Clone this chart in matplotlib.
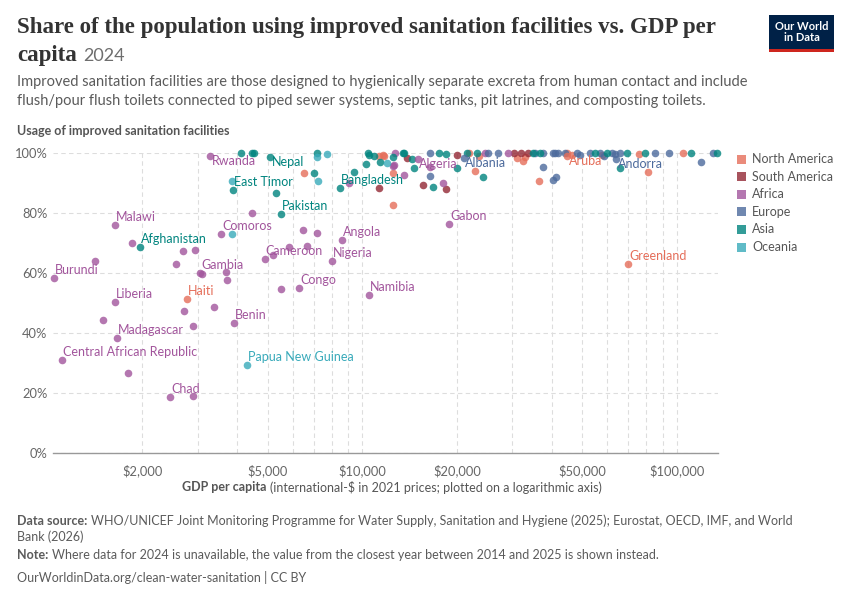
import matplotlib.pyplot as plt
from matplotlib.patches import Rectangle

W, H = 850, 600

regions = ["North America", "South America", "Africa", "Europe", "Asia", "Oceania"]
region_colors = {
    "North America": "#E56E5A",
    "South America": "#932834",
    "Africa": "#A2559C",
    "Europe": "#4C6A9C",
    "Asia": "#00847E",
    "Oceania": "#38AABA",
}

# unlabelled countries, GDP per capita (int.-$ 2021) and share with improved sanitation (%)
north_america_gdp = [6550, 11300, 11700, 12500, 12500, 11600, 22800, 21800, 33000, 36400,
                     44700, 46400, 57800, 75800, 80900, 104500, 31000, 32500, 23500]
north_america_pct = [93.3, 99, 99, 82.7, 93.3, 99.3, 94, 100, 98.7, 90.7,
                     100, 99.3, 99.3, 99.7, 93.7, 100, 98.5, 97.5, 99]
south_america_gdp = [11300, 13900, 15600, 30400, 32000, 33600, 20000, 18500]
south_america_pct = [88.3, 98.3, 89.3, 100, 100, 100, 99.5, 88]
africa_gdp = [1500, 1800, 2890, 2720, 2890, 3380, 5530, 3100, 3700, 3720, 2550, 1410, 1860,
              2700, 2950, 4470, 5200, 5840, 6680, 6500, 7200, 9100, 12500, 12700, 13600,
              12600, 18100, 29000, 16400, 24500]
africa_pct = [44.3, 26.7, 19, 47.3, 42.3, 48.7, 54.7, 59.7, 60.3, 57.7, 63, 64, 70,
              67.3, 67.7, 80, 66, 68.7, 69, 74.3, 73.3, 90, 95.7, 100, 92.7,
              96, 90, 100, 95.5, 100]
europe_gdp = [16400, 16400, 37600, 40300, 41200, 40300, 41800, 37600, 41000, 48100, 49200,
              52800, 56900, 62100, 63500, 65800, 85200, 94200, 119000, 130000, 44000, 27000,
              25000, 35500, 58500]
europe_pct = [92.3, 100, 95.3, 91, 92, 100, 100, 100, 100, 100, 99.3,
              100, 100, 100, 99.7, 100, 100, 100, 97, 100, 100, 100,
              100, 100, 99]
asia_gdp = [4130, 4470, 4520, 7200, 7000, 5300, 9400, 10400, 10500, 10300, 10900, 12500,
            14400, 14600, 13500, 13600, 16800, 17500, 18500, 20000, 21500, 23100, 24200,
            34800, 36600, 54800, 60000, 69200, 79200, 65800, 111000, 134000, 11400]
asia_pct = [100, 100, 100, 100, 93.3, 86.7, 93.7, 100, 99.3, 96.3, 99, 98.7,
            98, 95, 100, 100, 88.7, 100, 99.7, 95, 100, 100, 92,
            100, 100, 100, 100, 100, 100, 95, 100, 100, 97]
oceania_gdp = [3840, 3840, 7200, 7700, 7250, 12000]
oceania_pct = [73, 90.7, 98.7, 99.7, 90.7, 96.7]

# labelled countries
label_names = ["Burundi", "Central African Republic", "Malawi", "Liberia", "Madagascar", "Chad",
               "Benin", "Congo", "Namibia", "Gambia", "Comoros", "Cameroon", "Angola", "Nigeria",
               "Gabon", "Rwanda", "Algeria", "Afghanistan", "Pakistan", "Nepal", "East Timor",
               "Bangladesh", "Albania", "Andorra", "Haiti", "Greenland", "Aruba", "Papua New Guinea"]
label_gdp = [1050, 1110, 1640, 1640, 1660, 2450, 3900, 6300, 10500, 3055, 3560, 4900, 8650, 8000,
             18850, 3290, 15000, 1970, 5500, 5080, 3880, 8500, 21000, 64000, 2780, 70000, 44700, 4300]
label_pct = [58.3, 31, 76, 50.3, 38.3, 18.7, 43.3, 55, 52.7, 60, 73, 64.7, 71, 64,
             76.3, 99, 98, 68.7, 79.7, 98.7, 87.7, 88.3, 98.3, 98, 51.3, 63, 99, 29.3]
label_region = ["Africa"] * 17 + ["Asia"] * 5 + ["Europe"] * 2 + ["North America"] * 3 + ["Oceania"]
label_below = ["Rwanda", "Nepal", "Algeria", "Albania", "Andorra", "Aruba"]

x_ticks = [2000, 5000, 10000, 20000, 50000, 100000]
x_tick_labels = ["$2,000", "$5,000", "$10,000", "$20,000", "$50,000", "$100,000"]
x_minor = [3000, 4000, 6000, 7000, 8000, 9000, 30000, 40000, 60000, 70000, 80000, 90000]
y_ticks = [0, 20, 40, 60, 80, 100]

plt.rcParams['font.family'] = ['Lato', 'DejaVu Sans']

fig = plt.figure(figsize=(8.5, 6), dpi=100)
ax = fig.add_axes([53 / W, 1 - 453 / H, (718 - 53) / W, 300 / H])

series = {
    "North America": (north_america_gdp, north_america_pct),
    "South America": (south_america_gdp, south_america_pct),
    "Africa": (africa_gdp, africa_pct),
    "Europe": (europe_gdp, europe_pct),
    "Asia": (asia_gdp, asia_pct),
    "Oceania": (oceania_gdp, oceania_pct),
}
for reg in regions:
    gx, gy = series[reg]
    ax.scatter(gx, gy, s=30, color=region_colors[reg], alpha=0.8, linewidths=0, clip_on=False, zorder=3)

for name, gx, gy, reg in zip(label_names, label_gdp, label_pct, label_region):
    ax.scatter([gx], [gy], s=30, color=region_colors[reg], alpha=0.8, linewidths=0, clip_on=False, zorder=3)
    off = (1.2, -3.5) if name in label_below else (0.7, 5.8)
    ax.annotate(name, (gx, gy), xytext=off, textcoords='offset points', fontsize=9,
                color=region_colors[reg], va='center', ha='left', zorder=4)

ax.set_xscale('log')
ax.set_xlim(1040, 135000)
ax.set_ylim(0, 100)
ax.set_xticks(x_ticks)
ax.set_xticklabels(x_tick_labels)
ax.set_xticks(x_minor, minor=True)
ax.set_xticklabels([], minor=True)
ax.set_yticks(y_ticks)
ax.set_yticklabels([f"{v}%" for v in y_ticks])
ax.tick_params(axis='both', which='both', length=0, labelsize=9.3, colors='#666666')
ax.tick_params(axis='x', pad=8)
ax.tick_params(axis='y', pad=4)
ax.grid(True, which='both', axis='x', linestyle=(0, (4, 3)), color='#dddddd', lw=0.8)
ax.grid(True, which='major', axis='y', linestyle=(0, (4, 3)), color='#dddddd', lw=0.8)
ax.set_axisbelow(True)
for side in ['top', 'right', 'left']:
    ax.spines[side].set_visible(False)
ax.spines['bottom'].set_color('#999999')
ax.spines['bottom'].set_linewidth(1)

renderer = fig.canvas.get_renderer()


def fy(px):
    return 1 - px / H


def rich(x_px, y_px, parts, size, family='Lato'):
    x = x_px
    for txt, weight, col in parts:
        t = fig.text(x / W, fy(y_px), txt, fontsize=size, fontweight=weight, color=col,
                     va='center', ha='left', family=family)
        bb = t.get_window_extent(renderer=renderer)
        x += bb.width + size * 0.38
    return x


# title
title_font = ['Liberation Serif', 'DejaVu Serif']
fig.text(17 / W, fy(28), "Share of the population using improved sanitation facilities vs. GDP per",
         fontsize=16.5, fontweight='bold', color='#333333', va='center', family=title_font)
t2 = fig.text(17 / W, fy(56), "capita", fontsize=16.5, fontweight='bold', color='#333333',
              va='center', family=title_font)
bb = t2.get_window_extent(renderer=renderer)
fig.text((17 + bb.width + 6) / W, fy(56), "2024", fontsize=13, color='#6e6e6e', va='center')

fig.text(17 / W, fy(82), "Improved sanitation facilities are those designed to hygienically separate excreta from "
         "human contact and include", fontsize=10.5, color='#5b5b5b', va='center')
fig.text(17 / W, fy(101), "flush/pour flush toilets connected to piped sewer systems, septic tanks, pit latrines, "
         "and composting toilets.", fontsize=10.5, color='#5b5b5b', va='center')

fig.text(17 / W, fy(131), "Usage of improved sanitation facilities", fontsize=9, fontweight='bold',
         color='#555555', va='center')

# legend
for i, reg in enumerate(regions):
    yc = 159 + i * 17.6
    fig.patches.append(Rectangle((737 / W, fy(yc + 4.5)), 9 / W, 9 / H, transform=fig.transFigure,
                                 facecolor=region_colors[reg], alpha=0.8, edgecolor='none'))
    fig.text(752 / W, fy(yc), reg, fontsize=9, color='#555555', va='center')

# x axis label
xl_parts = [("GDP per capita", 'bold', '#555555'),
            ("(international-$ in 2021 prices; plotted on a logarithmic axis)", 'normal', '#555555')]
rich(182, 487, xl_parts, 9)

# footer
rich(17, 521, [("Data source:", 'bold', '#5b5b5b'),
               ("WHO/UNICEF Joint Monitoring Programme for Water Supply, Sanitation and Hygiene (2025); "
                "Eurostat, OECD, IMF, and World", 'normal', '#5b5b5b')], 9)
fig.text(17 / W, fy(537), "Bank (2026)", fontsize=9, color='#5b5b5b', va='center')
rich(17, 555, [("Note:", 'bold', '#5b5b5b'),
               ("Where data for 2024 is unavailable, the value from the closest year between 2014 and 2025 "
                "is shown instead.", 'normal', '#5b5b5b')], 9)
fig.text(17 / W, fy(578), "OurWorldinData.org/clean-water-sanitation | CC BY", fontsize=9,
         color='#5b5b5b', va='center')

# logo
fig.patches.append(Rectangle((769 / W, fy(49)), 65 / W, 34 / H, transform=fig.transFigure,
                             facecolor='#002147', edgecolor='none'))
fig.patches.append(Rectangle((769 / W, fy(52)), 65 / W, 3 / H, transform=fig.transFigure,
                             facecolor='#CE261E', edgecolor='none'))
fig.text(801.5 / W, fy(32), "Our World\nin Data", fontsize=8, fontweight='bold', color='white',
         ha='center', va='center', linespacing=1.0)

fig.savefig('out.png', dpi=100)
